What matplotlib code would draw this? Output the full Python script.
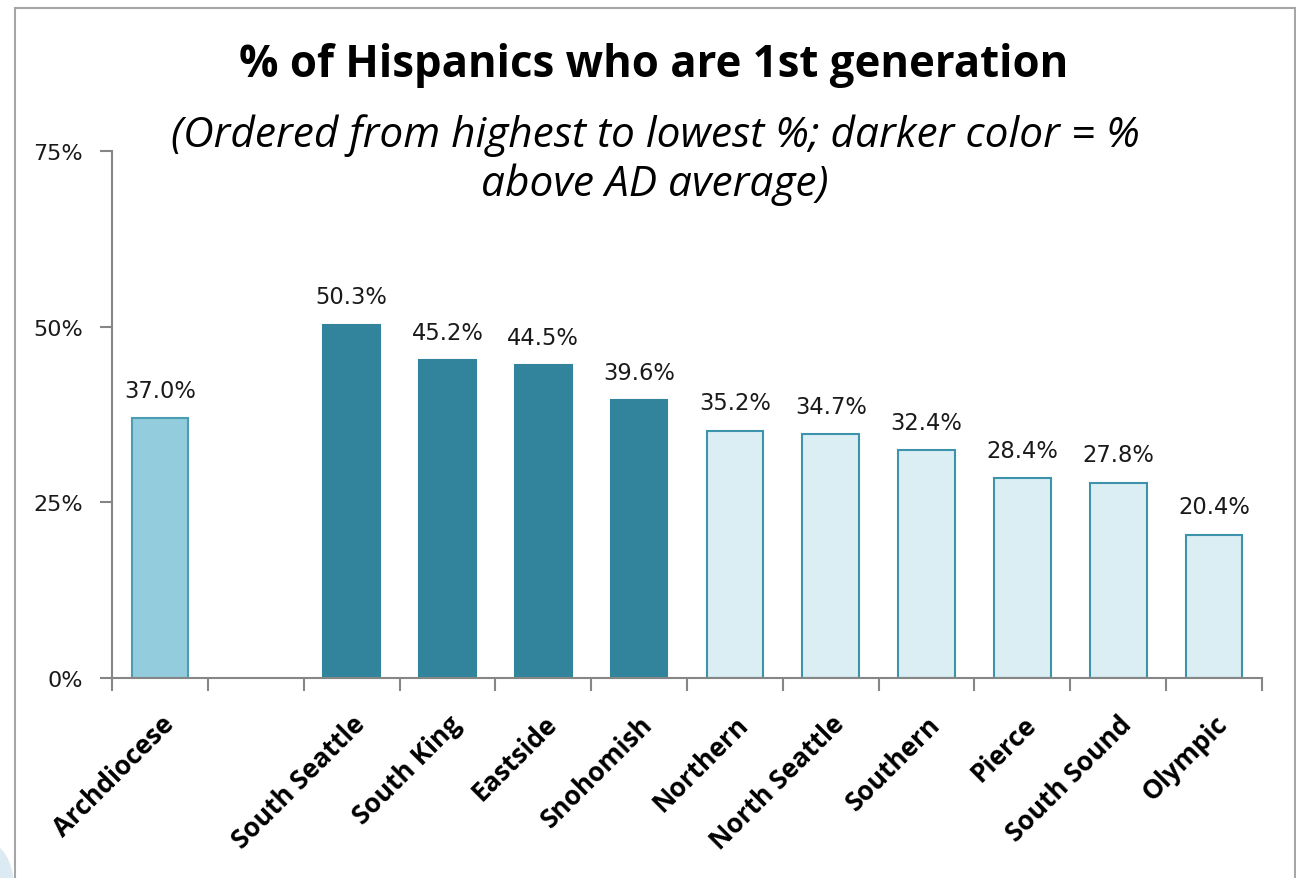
import numpy as np
import matplotlib.pyplot as plt
from matplotlib.patches import Rectangle, Ellipse
from matplotlib.transforms import ScaledTranslation

# chart data
categories = ['Archdiocese', '', 'South Seattle', 'South King', 'Eastside', 'Snohomish',
              'Northern', 'North Seattle', 'Southern', 'Pierce', 'South Sound', 'Olympic']
values = [37.0, np.nan, 50.3, 45.2, 44.5, 39.6, 35.2, 34.7, 32.4, 28.4, 27.8, 20.4]
groups = ['avg', 'none', 'above', 'above', 'above', 'above',
          'below', 'below', 'below', 'below', 'below', 'below']
y_ticks = [0, 25, 50, 75]

fills = {'avg': '#93CDDD', 'above': '#31849B', 'below': '#DBEEF4', 'none': 'white'}
edges = {'avg': '#4A9DB3', 'above': '#31849B', 'below': '#3C93AB', 'none': 'white'}

fig = plt.figure(figsize=(12.96, 8.79), dpi=100)

# frame around the chart area, as in the Excel export
fig.patches.append(Rectangle((15 / 1296, -0.01), 1280 / 1296, 1 - 9 / 879 + 0.01,
                             transform=fig.transFigure, fill=False,
                             edgecolor='#A6A6A6', linewidth=1.5))
fig.patches.append(Ellipse((-14 / 1296, -0.01), 56 / 1296, 90 / 879,
                           transform=fig.transFigure, facecolor='#DCEBF3',
                           edgecolor='none'))

ax = fig.add_axes([112 / 1296, 1 - 679 / 879, 1150 / 1296, 527 / 879])

x = np.arange(len(categories))
for xi, v, g in zip(x, values, groups):
    if np.isnan(v):
        continue
    ax.bar(xi, v, width=0.59, color=fills[g], edgecolor=edges[g], linewidth=1.5)
    ax.text(xi, v + 2.3, f'{v:.1f}%', ha='center', va='bottom',
            fontsize=16.3, family='DejaVu Sans', color='#1a1a1a')

ax.set_xlim(-0.5, len(categories) - 0.5)
ax.set_ylim(0, 75)

ax.set_yticks(y_ticks)
ax.set_yticklabels([f'{t}%' for t in y_ticks], fontsize=16, family='DejaVu Sans',
                   color='#1a1a1a')

ax.set_xticks(np.arange(-0.5, len(categories)), labels=[])
ax.set_xticks(x, minor=True)
ax.set_xticklabels(categories, minor=True, rotation=45, ha='right',
                   rotation_mode='anchor', fontsize=19, fontweight='bold',
                   family='Open Sans')
# nudge the rotated labels a little left so they end under the bar centre
shift = ScaledTranslation(-0.09, 0, fig.dpi_scale_trans)
for lbl in ax.get_xticklabels(minor=True):
    lbl.set_transform(lbl.get_transform() + shift)
ax.tick_params(axis='x', which='minor', length=0, pad=23)
ax.tick_params(axis='x', which='major', length=9, width=1.5, color='#868686')
ax.tick_params(axis='y', length=9, width=1.5, color='#868686', pad=12)

for side in ['top', 'right']:
    ax.spines[side].set_visible(False)
for side in ['left', 'bottom']:
    ax.spines[side].set_color('#868686')
    ax.spines[side].set_linewidth(1.5)

fig.text(654 / 1296, 1 - 65 / 879, '% of Hispanics who are 1st generation',
         ha='center', va='center', fontsize=31.5, fontweight='bold', family='Open Sans')
fig.text(655 / 1296, 1 - 160 / 879,
         '(Ordered from highest to lowest %; darker color = %\nabove AD average)',
         ha='center', va='center', fontsize=30.5, style='italic', family='Open Sans',
         linespacing=1.2)

fig.savefig('out.png', dpi=100)
